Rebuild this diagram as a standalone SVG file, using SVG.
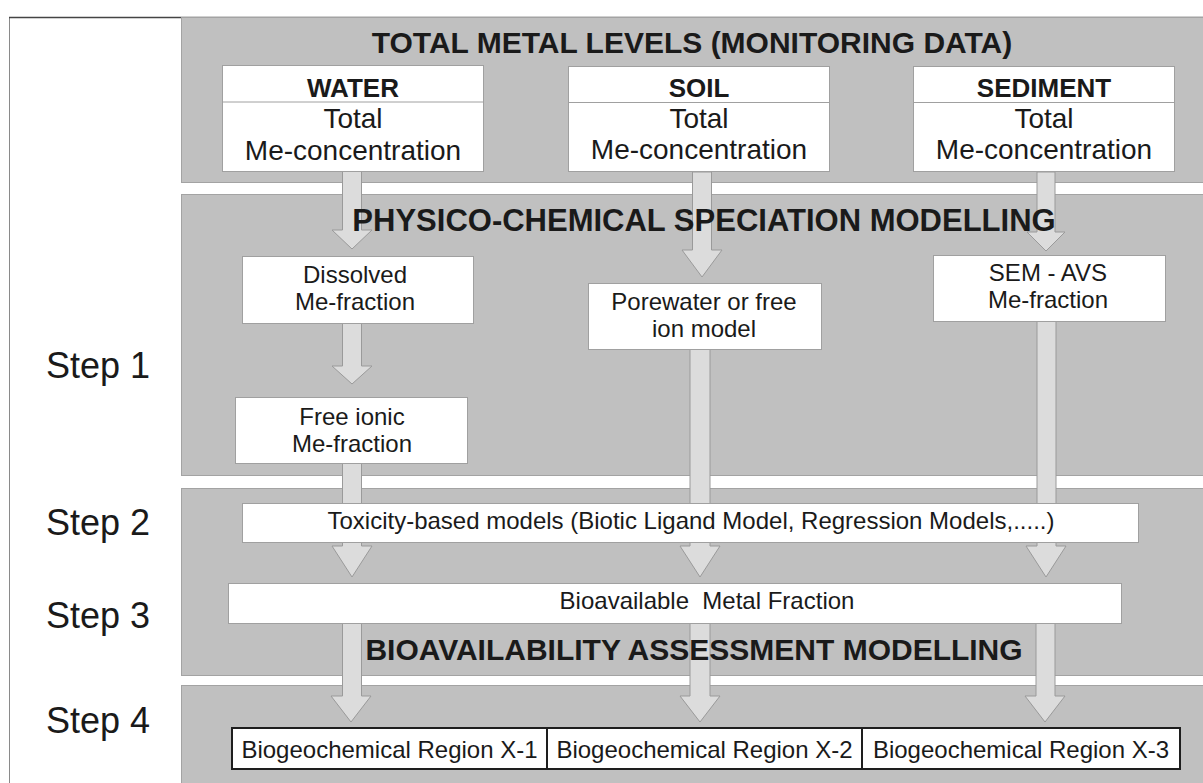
<svg xmlns="http://www.w3.org/2000/svg" width="1203" height="783" viewBox="0 0 1203 783">
<style>
text{font-family:"Liberation Sans",Arial,sans-serif;fill:#1a1a1a}
.panel{fill:#c0c0c0;stroke:#a3a3a3;stroke-width:1}
.box{fill:#ffffff;stroke:#a0a0a0;stroke-width:1}
.rbox{fill:#ffffff;stroke:#1e1e1e;stroke-width:2}
.arrow{fill:#dcdcdc;stroke:#9a9a9a;stroke-width:1}
.title{font-size:30px;font-weight:bold;text-anchor:middle}
.head{font-size:26px;font-weight:bold;text-anchor:middle}
.big{font-size:28px;text-anchor:middle}
.mid{font-size:24px;text-anchor:middle}
.step{font-size:36px}
</style>
<rect x="0" y="0" width="1203" height="783" fill="#ffffff"/>
<rect x="9.5" y="17.5" width="1200" height="770" fill="#ffffff" stroke="#8a8a8a"/>
<line x1="9" y1="17.5" x2="1203" y2="17.5" stroke="#444" stroke-width="1.5"/>
<g id="panels">
<rect class="panel" x="181.5" y="17.5" width="1030" height="165"/>
<rect class="panel" x="181.5" y="194.5" width="1030" height="281"/>
<rect class="panel" x="181.5" y="488.5" width="1030" height="187"/>
<rect class="panel" x="181.5" y="685.5" width="1030" height="110"/>
</g>
<g id="steps">
<text class="step" x="46" y="378">Step 1</text>
<text class="step" x="46" y="535">Step 2</text>
<text class="step" x="46" y="628">Step 3</text>
<text class="step" x="46" y="733">Step 4</text>
</g>
<g id="connectors">
<polygon class="arrow" points="342.5,171 361.5,171 361.5,230 372,230 352,249 332,230 342.5,230"/>
<polygon class="arrow" points="342.5,323 361.5,323 361.5,366 372,366 352,384 332,366 342.5,366"/>
<polygon class="arrow" points="342.5,463 361.5,463 361.5,546 372,546 352,577 332,546 342.5,546"/>
<polygon class="arrow" points="342.5,623 361.5,623 361.5,696 371,696 351,722 331,696 342.5,696"/>
<polygon class="arrow" points="692.5,172 711.5,172 711.5,250 722,250 702,277 682,250 692.5,250"/>
<polygon class="arrow" points="690,349 710,349 710,546 720,546 700,577 680,546 690,546"/>
<polygon class="arrow" points="690,623 710,623 710,696 720,696 700,722 680,696 690,696"/>
<polygon class="arrow" points="1037,172 1055,172 1055,232 1065,232 1046,251 1027,232 1037,232"/>
<polygon class="arrow" points="1037,321 1056,321 1056,546 1066,546 1046,577 1026,546 1037,546"/>
<polygon class="arrow" points="1036,623 1055,623 1055,696 1065,696 1045,722 1025,696 1036,696"/>
</g>
<g id="water">
<rect class="box" x="222.5" y="65.5" width="261" height="106"/>
<line x1="222.5" y1="102" x2="483.5" y2="102" stroke="#a0a0a0"/>
<text class="head" x="353" y="97">WATER</text>
<text class="big" x="353" y="128">Total</text>
<text class="big" x="353" y="160">Me-concentration</text>
</g>
<g id="soil">
<rect class="box" x="568.5" y="66.5" width="261" height="105"/>
<line x1="568.5" y1="102.5" x2="829.5" y2="102.5" stroke="#a0a0a0"/>
<text class="head" x="699" y="97">SOIL</text>
<text class="big" x="699" y="128">Total</text>
<text class="big" x="699" y="159">Me-concentration</text>
</g>
<g id="sediment">
<rect class="box" x="913.5" y="66.5" width="261" height="105"/>
<line x1="913.5" y1="102.5" x2="1174.5" y2="102.5" stroke="#a0a0a0"/>
<text class="head" x="1044" y="97">SEDIMENT</text>
<text class="big" x="1044" y="128">Total</text>
<text class="big" x="1044" y="159">Me-concentration</text>
</g>
<g id="dissolved">
<rect class="box" x="242.5" y="256.5" width="231" height="67"/>
<text class="mid" x="355" y="283">Dissolved</text>
<text class="mid" x="355" y="310">Me-fraction</text>
</g>
<g id="freeionic">
<rect class="box" x="235.5" y="397.5" width="232" height="66"/>
<text class="mid" x="352" y="425">Free ionic</text>
<text class="mid" x="352" y="452">Me-fraction</text>
</g>
<g id="porewater">
<rect class="box" x="588.5" y="283.5" width="233" height="66"/>
<text class="mid" x="704" y="310">Porewater or free</text>
<text class="mid" x="704" y="337">ion model</text>
</g>
<g id="semavs">
<rect class="box" x="933.5" y="255.5" width="232" height="66"/>
<text class="mid" x="1048" y="281">SEM - AVS</text>
<text class="mid" x="1048" y="308">Me-fraction</text>
</g>
<g id="toxicity">
<rect class="box" x="242.5" y="503.5" width="896" height="39"/>
<text class="mid" x="691" y="529">Toxicity-based models (Biotic Ligand Model, Regression Models,.....)</text>
</g>
<g id="bioavailable">
<rect class="box" x="228.5" y="583.5" width="893" height="40"/>
<text class="mid" x="707" y="609" xml:space="preserve">Bioavailable  Metal Fraction</text>
</g>
<g id="region1">
<rect class="rbox" x="232" y="728" width="315" height="41"/>
<text class="mid" x="389.5" y="758">Biogeochemical Region X-1</text>
</g>
<g id="region2">
<rect class="rbox" x="547" y="728" width="315" height="41"/>
<text class="mid" x="704.5" y="758">Biogeochemical Region X-2</text>
</g>
<g id="region3">
<rect class="rbox" x="862" y="728" width="318" height="41"/>
<text class="mid" x="1021" y="758">Biogeochemical Region X-3</text>
</g>
<g id="titles">
<text class="title" x="692" y="53">TOTAL METAL LEVELS (MONITORING DATA)</text>
<text class="title" x="704" y="231" style="font-size:31px">PHYSICO-CHEMICAL SPECIATION MODELLING</text>
<text class="title" x="694" y="660">BIOAVAILABILITY ASSESSMENT MODELLING</text>
</g>
</svg>
